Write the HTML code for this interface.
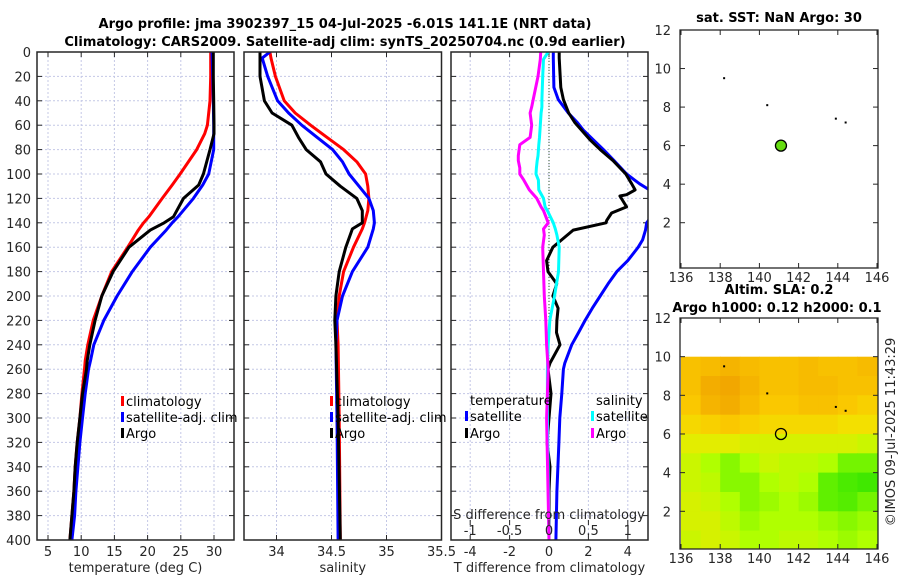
<!DOCTYPE html>
<html><head><meta charset="utf-8">
<style>
html,body{margin:0;padding:0;background:#fff;}
svg{display:block;font-family:"DejaVu Sans","Liberation Sans",sans-serif;}
.tk{font-size:13px;fill:#262626;}
.tt{font-size:13px;font-weight:bold;fill:#000;}
.lg{font-size:13px;fill:#000;}
</style></head>
<body>
<svg id="fig" width="900" height="580" viewBox="0 0 900 580">
<text class="tt" x="345" y="28" text-anchor="middle">Argo profile: jma 3902397_15 04-Jul-2025 -6.01S 141.1E (NRT data)</text>
<text class="tt" x="345" y="46" text-anchor="middle">Climatology: CARS2009. Satellite-adj clim: synTS_20250704.nc (0.9d earlier)</text>
<text class="tt" x="779" y="22" text-anchor="middle">sat. SST: NaN Argo: 30</text>
<text class="tt" x="779" y="294" text-anchor="middle">Altim. SLA: 0.2</text>
<text class="tt" x="777" y="312" text-anchor="middle">Argo h1000: 0.12 h2000: 0.1</text>
<text class="tk" transform="translate(895,432) rotate(-90)" text-anchor="middle">©IMOS 09-Jul-2025 11:43:29</text>
<g id="g"></g>
</svg>
<script>
// ---- profile data (depth in m) ----
const depthT    = [0,20,40,60,67,80,100,109,120,135,140,146,160,180,200,220,240,253,260,280,300,320,340,360,380,400];
const tempClim  = [29.5,29.5,29.4,29.0,28.6,27.4,24.9,23.7,22.2,20.2,19.4,18.6,17.0,14.6,13.1,11.8,11.0,10.6,10.5,10.1,9.8,9.4,9.1,8.9,8.6,8.3];
const tempSat   = [29.7,29.8,29.9,29.95,29.95,29.95,29.2,28.3,26.9,24.6,23.7,22.8,20.4,17.7,15.4,13.4,11.9,11.4,11.1,10.6,10.2,9.8,9.5,9.2,9.0,8.6];
const tempArgo  = [29.9,29.9,29.95,30.0,30.0,29.4,28.4,27.7,25.4,23.9,22.5,20.4,17.2,14.8,13.1,12.1,11.3,10.9,10.8,10.2,9.8,9.4,9.1,8.9,8.6,8.3];
const depthS    = [0,5,20,40,50,60,70,80,90,100,110,120,130,140,145,160,180,200,220,240,300,400];
const salClim   = [33.94,33.95,33.99,34.07,34.17,34.31,34.46,34.61,34.73,34.81,34.83,34.84,34.83,34.80,34.78,34.70,34.61,34.57,34.55,34.56,34.57,34.58];
const salSat    = [33.94,33.87,33.92,34.01,34.11,34.23,34.37,34.51,34.60,34.66,34.75,34.84,34.88,34.89,34.88,34.83,34.69,34.60,34.55,34.54,34.55,34.56];
const salArgo   = [33.85,33.85,33.85,33.89,33.96,34.14,34.20,34.27,34.40,34.45,34.58,34.73,34.78,34.78,34.69,34.63,34.57,34.54,34.53,34.54,34.56,34.58];
const depthD    = [0,3,5,29,39,50,58,64,72,80,89,100,108,113,117,118,127,132,138,140,146,154,160,171,180,190,200,210,220,230,240,255,260,280,300,320,340,360,400];
const tDiffSat  = [0.22,0.22,0.22,0.25,0.47,0.98,1.45,1.74,2.25,2.76,3.3,3.94,4.6,5.1,5.3,5.3,5.3,5.2,5.05,4.96,4.9,4.75,4.53,4.0,3.44,3.0,2.6,2.2,1.83,1.5,1.15,0.8,0.73,0.65,0.55,0.5,0.45,0.4,0.35];
const tDiffArgo = [0.52,0.52,0.52,0.6,0.73,1.0,1.32,1.65,2.08,2.6,3.25,3.9,4.2,4.37,3.94,3.6,3.94,3.18,2.93,2.9,1.23,0.64,0.2,-0.12,-0.05,0.39,0.2,0.46,0.4,0.38,0.56,0.05,-0.05,0.1,0.0,-0.1,0.05,0.0,0.0];
const depthSD   = [0,6,20,39,45,50,60,70,76,85,89,95,100,105,113,120,127,130,140,145,150,160,180,200,220,240,260,300,400];
const sDiffSat  = [-0.01,-0.07,-0.08,-0.09,-0.09,-0.1,-0.11,-0.12,-0.13,-0.14,-0.15,-0.16,-0.165,-0.135,-0.13,-0.07,-0.05,-0.02,0.055,0.08,0.1,0.13,0.12,0.07,0.01,-0.01,-0.02,-0.02,0.0];
const sDiffArgo = [-0.105,-0.11,-0.14,-0.2,-0.22,-0.24,-0.22,-0.24,-0.37,-0.39,-0.39,-0.37,-0.37,-0.32,-0.25,-0.155,-0.1,-0.07,-0.01,-0.07,-0.06,-0.08,-0.07,-0.06,-0.04,-0.03,-0.01,-0.03,0.0];
// ---- map data ----
const dotLon = [138.2,140.4,143.9,144.4];
const dotLat = [9.5,8.1,7.4,7.2];
const argoLon = 141.1, argoLat = 6.0;
const slaLats = [9.5,8.5,7.5,6.5,5.5,4.5,3.5,2.5,1.5,0.5];
const slaLons = [136.5,137.5,138.5,139.5,140.5,141.5,142.5,143.5,144.5,145.5,146.5];
const slaRows = [
[0.20,0.21,0.22,0.21,0.20,0.20,0.21,0.20,0.20,0.21,0.20],
[0.20,0.23,0.24,0.22,0.20,0.20,0.21,0.21,0.20,0.20,0.19],
[0.19,0.22,0.23,0.21,0.19,0.19,0.20,0.20,0.19,0.18,0.18],
[0.17,0.18,0.19,0.18,0.17,0.17,0.17,0.17,0.16,0.16,0.16],
[0.14,0.14,0.14,0.13,0.13,0.13,0.13,0.13,0.13,0.12,0.12],
[0.12,0.10,0.08,0.10,0.12,0.11,0.11,0.10,0.07,0.07,0.06],
[0.12,0.11,0.08,0.08,0.10,0.11,0.10,0.06,0.04,0.03,0.02],
[0.13,0.12,0.10,0.08,0.09,0.10,0.09,0.06,0.05,0.07,0.05],
[0.13,0.13,0.11,0.09,0.10,0.10,0.10,0.09,0.08,0.09,0.07],
[0.12,0.13,0.12,0.10,0.10,0.11,0.11,0.10,0.09,0.10,0.08]];
const depthTicks = [0,20,40,60,80,100,120,140,160,180,200,220,240,260,280,300,320,340,360,380,400];
const tTicks = [5,10,15,20,25,30];
const sTicks = [34,34.5,35,35.5];
const dTicks = [-4,-2,0,2,4];
const sdTicks = [-1,-0.5,0,0.5,1];
const sdTickLabels = ['-1','-0.5','0','0.5','1'];
const lonTicks = [136,138,140,142,144,146];
const latTicks = [2,4,6,8,10,12];

const NS='http://www.w3.org/2000/svg';
const G=document.getElementById('g');
function el(tag,attrs,parent,txt){const e=document.createElementNS(NS,tag);for(const k in attrs)e.setAttribute(k,attrs[k]);if(txt!==undefined)e.textContent=txt;(parent||G).appendChild(e);return e;}

const Y0=52,Y1=540;
const yD=d=>Y0+d*(Y1-Y0)/400;
const P=[
 {x0:37,x1:234,f:v=>48+(v-5)*6.64,ticks:tTicks,lab:'temperature (deg C)',name:'temperature-panel'},
 {x0:244,x1:441.5,f:v=>276.5+(v-34)*110,ticks:sTicks,lab:'salinity',name:'salinity-panel'},
 {x0:451,x1:648,f:v=>549+v*19.7,ticks:dTicks,lab:'T difference from climatology',name:'difference-panel'}];
const fS=v=>549+v*78.8;

P.forEach((p,i)=>{
  const g=el('g',{});
  
  
  const clip='c'+i;
  const cp=el('clipPath',{id:clip},g);el('rect',{x:p.x0,y:Y0,width:p.x1-p.x0,height:Y1-Y0},cp);
  depthTicks.forEach(d=>{el('line',{x1:p.x0,x2:p.x1,y1:yD(d),y2:yD(d),stroke:'#c4c8e6','stroke-width':1,'stroke-dasharray':'2,2'},g);
    el('line',{x1:p.x0,x2:p.x0+5,y1:yD(d),y2:yD(d),stroke:'#262626'},g);
    el('line',{x1:p.x1-5,x2:p.x1,y1:yD(d),y2:yD(d),stroke:'#262626'},g);
    if(i==0){const t=el('text',{class:'tk',x:31,y:yD(d)+5,'text-anchor':'end'},g,String(d));}
  });
  p.ticks.forEach(v=>{const x=p.f(v);
    el('line',{x1:x,x2:x,y1:Y0,y2:Y1,stroke:'#c4c8e6','stroke-width':1,'stroke-dasharray':'2,2'},g);
    el('line',{x1:x,x2:x,y1:Y1-5,y2:Y1,stroke:'#262626'},g);
    el('line',{x1:x,x2:x,y1:Y0,y2:Y0+5,stroke:'#262626'},g);
    const t=el('text',{class:'tk',x:x,y:556,'text-anchor':'middle'},g,String(v));
    
  });
  const xl=el('text',{class:'tk',x:(p.x0+p.x1)/2,y:572,'text-anchor':'middle'},g,p.lab);
  
  p.g=g;p.clip=clip;
});

function line(p,fx,vals,deps,color,name){
  const pts=vals.map((v,k)=>fx(v).toFixed(1)+','+yD(deps[k]).toFixed(1)).join(' ');
  const l=el('polyline',{points:pts,fill:'none',stroke:color,'stroke-width':3,'stroke-linejoin':'round','clip-path':'url(#'+p.clip+')'},p.g);
  
}
el('line',{x1:549,x2:549,y1:Y0,y2:Y1,stroke:'#335533','stroke-width':1,'stroke-dasharray':'1,2'},P[2].g);
line(P[0],P[0].f,tempClim,depthT,'#ff0000','temp-climatology-line');
line(P[0],P[0].f,tempSat,depthT,'#0000ff','temp-satellite-line');
line(P[0],P[0].f,tempArgo,depthT,'#000000','temp-argo-line');
line(P[1],P[1].f,salClim,depthS,'#ff0000','sal-climatology-line');
line(P[1],P[1].f,salSat,depthS,'#0000ff','sal-satellite-line');
line(P[1],P[1].f,salArgo,depthS,'#000000','sal-argo-line');
line(P[2],P[2].f,tDiffSat,depthD,'#0000ff','tdiff-satellite-line');
line(P[2],P[2].f,tDiffArgo,depthD,'#000000','tdiff-argo-line');
line(P[2],fS,sDiffSat,depthSD,'#00ffff','sdiff-satellite-line');
line(P[2],fS,sDiffArgo,depthSD,'#ff00ff','sdiff-argo-line');

sdTicks.forEach((v,k)=>{const x=fS(v);
  el('line',{x1:x,x2:x,y1:520,y2:525,stroke:'#262626'},P[2].g);
  const t=el('text',{class:'tk',x:x,y:535,'text-anchor':'middle'},P[2].g,sdTickLabels[k]);
  });
{const t=el('text',{class:'tk',x:549,y:519,'text-anchor':'middle'},P[2].g,'S difference from climatology');
 }

P.forEach(p=>{el('rect',{x:p.x0,y:Y0,width:p.x1-p.x0,height:Y1-Y0,fill:'none',stroke:'#262626','stroke-width':1.5},p.g);});

function leg(g,x,y,color,txt){
  const gg=el('g',{},g);
  el('rect',{x:x-5,y:y-10,width:3,height:10,fill:color},gg);
  el('text',{class:'lg',x:x,y:y},gg,txt);
}
[[P[0],126],[P[1],335]].forEach(([p,x])=>{
  leg(p.g,x,406,'#ff0000','climatology');leg(p.g,x,422,'#0000ff','satellite-adj. clim');leg(p.g,x,438,'#000000','Argo');
});
el('text',{class:'lg',x:470,y:405},P[2].g,'temperature');
el('text',{class:'lg',x:596,y:405},P[2].g,'salinity');
leg(P[2].g,470,421,'#0000ff','satellite');leg(P[2].g,470,438,'#000000','Argo');
leg(P[2].g,596,421,'#00ffff','satellite');leg(P[2].g,596,438,'#ff00ff','Argo');

const M=[{y0:30,y1:268,name:'sst-map',latTop:12,latBot:-0.35},{y0:318,y1:549,name:'sla-map',latTop:12,latBot:0.05}];
const MX0=680,MX1=878;
const xL=v=>681+(v-136)*19.6;
function cmap(v){
  const stops=[[0.0,[32,224,0]],[0.06,[96,240,0]],[0.1,[176,255,0]],[0.15,[240,232,0]],[0.19,[250,200,0]],[0.25,[240,160,0]]];
  if(v<=stops[0][0])return 'rgb('+stops[0][1]+')';
  for(let i=1;i<stops.length;i++){if(v<=stops[i][0]){const a=stops[i-1],b=stops[i],t=(v-a[0])/(b[0]-a[0]);
    return 'rgb('+a[1].map((c,j)=>Math.round(c+(b[1][j]-c)*t)).join(',')+')';}}
  return 'rgb('+stops[stops.length-1][1]+')';
}
M.forEach((m,mi)=>{
  const g=el('g',{});
  const yL=v=>m.y0+(m.latTop-v)*(m.y1-m.y0)/(m.latTop-m.latBot);
  const cp=el('clipPath',{id:'m'+mi},g);el('rect',{x:MX0,y:m.y0,width:MX1-MX0,height:m.y1-m.y0},cp);
  const cg=el('g',{'clip-path':'url(#m'+mi+')'},g);
  if(mi==1){
    slaRows.forEach((row,r)=>row.forEach((v,c)=>{
      const x=xL(slaLons[c]-0.5),y=yL(slaLats[r]+0.5);
      const cell=el('rect',{x:x.toFixed(1),y:y.toFixed(1),width:(19.6+0.6).toFixed(1),height:((yL(0)-yL(1))+0.6).toFixed(1),fill:cmap(v)},cg);
      
    }));
  }
  dotLon.forEach((lo,k)=>{const d=el('rect',{x:xL(lo)-1,y:yL(dotLat[k])-1,width:2,height:2,fill:'#000'},cg);
    });
  const c=el('circle',{cx:xL(argoLon),cy:yL(argoLat),r:5.5,fill:mi==0?'#66dd11':'none',stroke:'#000','stroke-width':1.3},cg);
  
  lonTicks.forEach(v=>{const x=xL(v);
    el('line',{x1:x,x2:x,y1:m.y1-5,y2:m.y1,stroke:'#262626'},g);el('line',{x1:x,x2:x,y1:m.y0,y2:m.y0+5,stroke:'#262626'},g);
    const t=el('text',{class:'tk',x:x,y:m.y1+14,'text-anchor':'middle'},g,String(v));
    });
  latTicks.forEach(v=>{const y=yL(v);
    el('line',{x1:MX0,x2:MX0+5,y1:y,y2:y,stroke:'#262626'},g);el('line',{x1:MX1-5,x2:MX1,y1:y,y2:y,stroke:'#262626'},g);
    const t=el('text',{class:'tk',x:671,y:y+5,'text-anchor':'end'},g,String(v));
    });
  el('rect',{x:MX0,y:m.y0,width:MX1-MX0,height:m.y1-m.y0,fill:'none',stroke:'#262626','stroke-width':1.3},g);
});
</script>
</body></html>
